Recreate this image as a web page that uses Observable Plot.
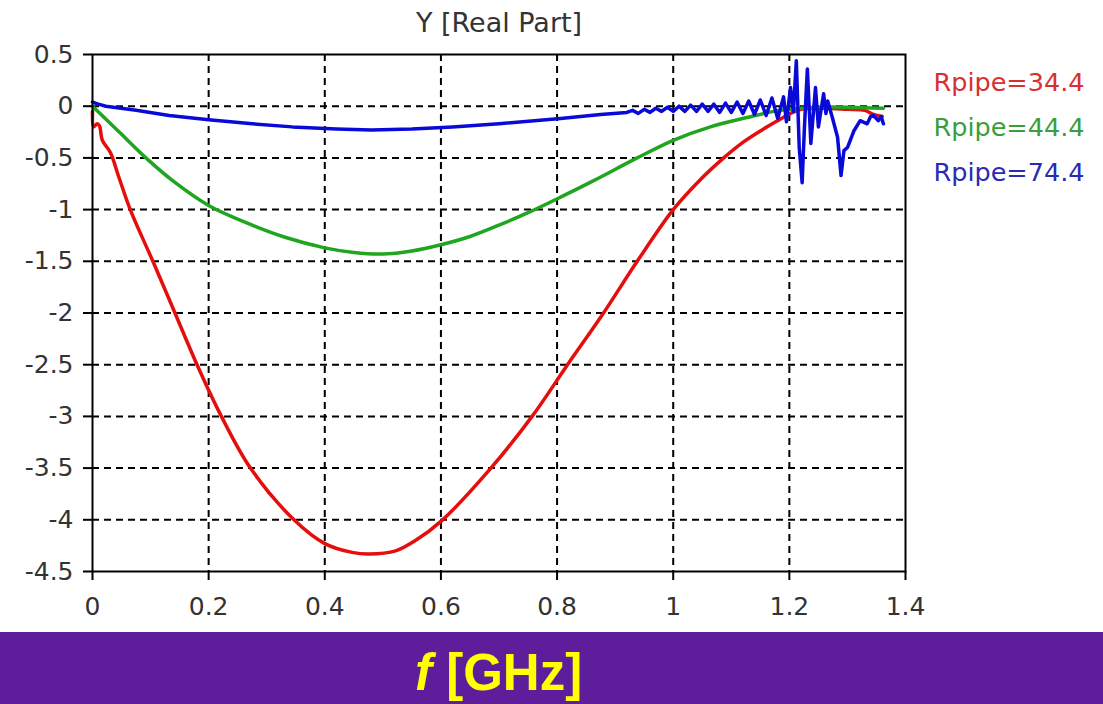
<!DOCTYPE html>
<html><head><meta charset="utf-8">
<script src="https://cdn.jsdelivr.net/npm/d3@7"></script>
<script src="https://cdn.jsdelivr.net/npm/@observablehq/plot@0.6"></script>
<style>
body{margin:0;background:#fff;width:1103px;height:704px;overflow:hidden}
#chart svg{display:block}
#bar{position:relative;height:72px;background:#5e1e9c}
#bar span{position:absolute;left:415px;top:11px;color:#ffff00;font:bold 51px "Liberation Sans",Arial,sans-serif;white-space:nowrap}
</style></head><body>
<div id="chart"></div>
<div id="bar"><span><i>f</i> [GHz]</span></div>
<script>
// ---- data ----
const xTicks = [0, 0.2, 0.4, 0.6, 0.8, 1.0, 1.2, 1.4];
const xTickLabels = ["0", "0.2", "0.4", "0.6", "0.8", "1", "1.2", "1.4"];
const yTicks = [-4.5, -4, -3.5, -3, -2.5, -2, -1.5, -1, -0.5, 0, 0.5];
const yTickLabels = ["-4.5", "-4", "-3.5", "-3", "-2.5", "-2", "-1.5", "-1", "-0.5", "0", "0.5"];

const seriesNames = ["Rpipe=34.4", "Rpipe=44.4", "Rpipe=74.4"];
const seriesColors = ["#e60d0d", "#1fa51f", "#0a0ad8"];
const legendColors = ["#d83030", "#3a9e3a", "#2a2ab4"];

const redF = [0, 0.002, 0.008, 0.012, 0.017, 0.031, 0.045, 0.065, 0.104, 0.142, 0.18, 0.222, 0.272, 0.347, 0.4, 0.447, 0.476, 0.522, 0.556, 0.601, 0.686, 0.757, 0.818, 0.88, 0.938, 1.0, 1.045, 1.087, 1.12, 1.15, 1.18, 1.202, 1.22, 1.26, 1.3, 1.33, 1.345, 1.36];
const redY = [-0.05, -0.2, -0.17, -0.19, -0.33, -0.45, -0.68, -1.0, -1.5, -2.0, -2.5, -3.0, -3.5, -4.0, -4.23, -4.315, -4.33, -4.30, -4.2, -4.01, -3.5, -3.0, -2.5, -2.0, -1.5, -1.0, -0.72, -0.5, -0.35, -0.24, -0.14, -0.07, -0.03, -0.02, -0.03, -0.04, -0.08, -0.1];

const greenF = [0, 0.046, 0.092, 0.138, 0.2, 0.275, 0.333, 0.4, 0.45, 0.5, 0.55, 0.6, 0.65, 0.7, 0.75, 0.806, 0.863, 0.938, 1.0, 1.064, 1.127, 1.173, 1.2, 1.25, 1.3, 1.362];
const greenY = [0.0, -0.25, -0.5, -0.72, -0.96, -1.15, -1.27, -1.37, -1.415, -1.43, -1.40, -1.34, -1.26, -1.15, -1.03, -0.88, -0.72, -0.5, -0.33, -0.2, -0.11, -0.05, -0.03, -0.01, -0.01, -0.02];

const blueF = [0, 0.01, 0.023, 0.075, 0.132, 0.2, 0.275, 0.344, 0.42, 0.48, 0.55, 0.62, 0.7, 0.806, 0.875, 0.92,
  0.93, 0.94, 0.95, 0.96, 0.97, 0.98, 0.99, 1.0, 1.01, 1.02, 1.03, 1.04, 1.05, 1.06, 1.07, 1.08, 1.09, 1.10, 1.11, 1.12, 1.13, 1.14, 1.15, 1.16, 1.17, 1.18, 1.19, 1.195,
  1.202, 1.207, 1.212, 1.217, 1.222, 1.226, 1.231, 1.237, 1.245, 1.25, 1.259, 1.263, 1.266, 1.274, 1.283, 1.289, 1.294, 1.3, 1.311, 1.322, 1.334, 1.34, 1.345, 1.353, 1.358, 1.362];
const blueY = [0.04, 0.02, 0, -0.04, -0.09, -0.13, -0.17, -0.2, -0.22, -0.23, -0.22, -0.2, -0.17, -0.12, -0.08, -0.06,
  -0.04, -0.07, -0.03, -0.06, -0.02, -0.05, -0.01, -0.05, 0.0, -0.05, 0.01, -0.05, 0.02, -0.05, 0.02, -0.06, 0.03, -0.06, 0.04, -0.07, 0.05, -0.08, 0.06, -0.09, 0.08, -0.12, 0.09, -0.15,
  0.18, -0.05, 0.44, -0.4, -0.74, -0.2, 0.36, -0.36, 0.18, -0.2, 0.12, -0.07, 0.05, -0.11, -0.30, -0.67, -0.43, -0.40, -0.24, -0.14, -0.17, -0.1, -0.09, -0.14, -0.1, -0.17];

// ---- build ----
const rows = (F, Y, s) => F.map((f, i) => ({f, y: Y[i], s}));
const smoothData = [
  ...rows(redF, redY, seriesNames[0]),
  ...rows(greenF, greenY, seriesNames[1])
];
const blueData = rows(blueF, blueY, seriesNames[2]);
const lab = (ticks, labels) => d => labels[ticks.findIndex(t => Math.abs(t - d) < 1e-9)];
const xGrid = xTicks.slice(1, -1);
const yGrid = yTicks.slice(1, -1);
const font = "DejaVu Sans";
const tickColor = "#333";

const chart = Plot.plot({
  width: 1103, height: 632,
  marginLeft: 92, marginRight: 198, marginTop: 54, marginBottom: 61,
  style: {fontFamily: font, fontSize: "25px", color: tickColor, background: "#fff"},
  x: {domain: [0, 1.4]},
  y: {domain: [-4.5, 0.5]},
  color: {domain: seriesNames, range: seriesColors},
  marks: [
    Plot.ruleX(xGrid, {stroke: "#000", strokeWidth: 2, strokeDasharray: "7,5"}),
    Plot.ruleY(yGrid, {stroke: "#000", strokeWidth: 2, strokeDasharray: "7,5"}),
    Plot.line(smoothData, {x: "f", y: "y", z: "s", stroke: "s", strokeWidth: 3.5, curve: "catmull-rom"}),
    Plot.line(blueData, {x: "f", y: "y", z: "s", stroke: "s", strokeWidth: 3.5, curve: "linear"}),
    Plot.frame({stroke: "#000", strokeWidth: 2}),
    Plot.axisX({ticks: xTicks, tickFormat: lab(xTicks, xTickLabels), tickSize: 9, tickPadding: 17, stroke: "#000", strokeWidth: 2, fill: tickColor, fontSize: 25, label: null}),
    Plot.axisY({ticks: yTicks, tickFormat: lab(yTicks, yTickLabels), tickSize: 9, tickPadding: 10, stroke: "#000", strokeWidth: 2, fill: tickColor, fontSize: 25, label: null}),
    Plot.text(["Y [Real Part]"], {frameAnchor: "top", lineAnchor: "middle", dy: -31, fontSize: 27, fill: tickColor}),
    ...seriesNames.map((n, i) => Plot.text([n], {frameAnchor: "top-right", textAnchor: "start", lineAnchor: "middle", dx: 28, dy: 28 + 45 * i, fontSize: 25.5, fill: legendColors[i]}))
  ]
});
document.getElementById("chart").appendChild(chart);
</script>
</body></html>
